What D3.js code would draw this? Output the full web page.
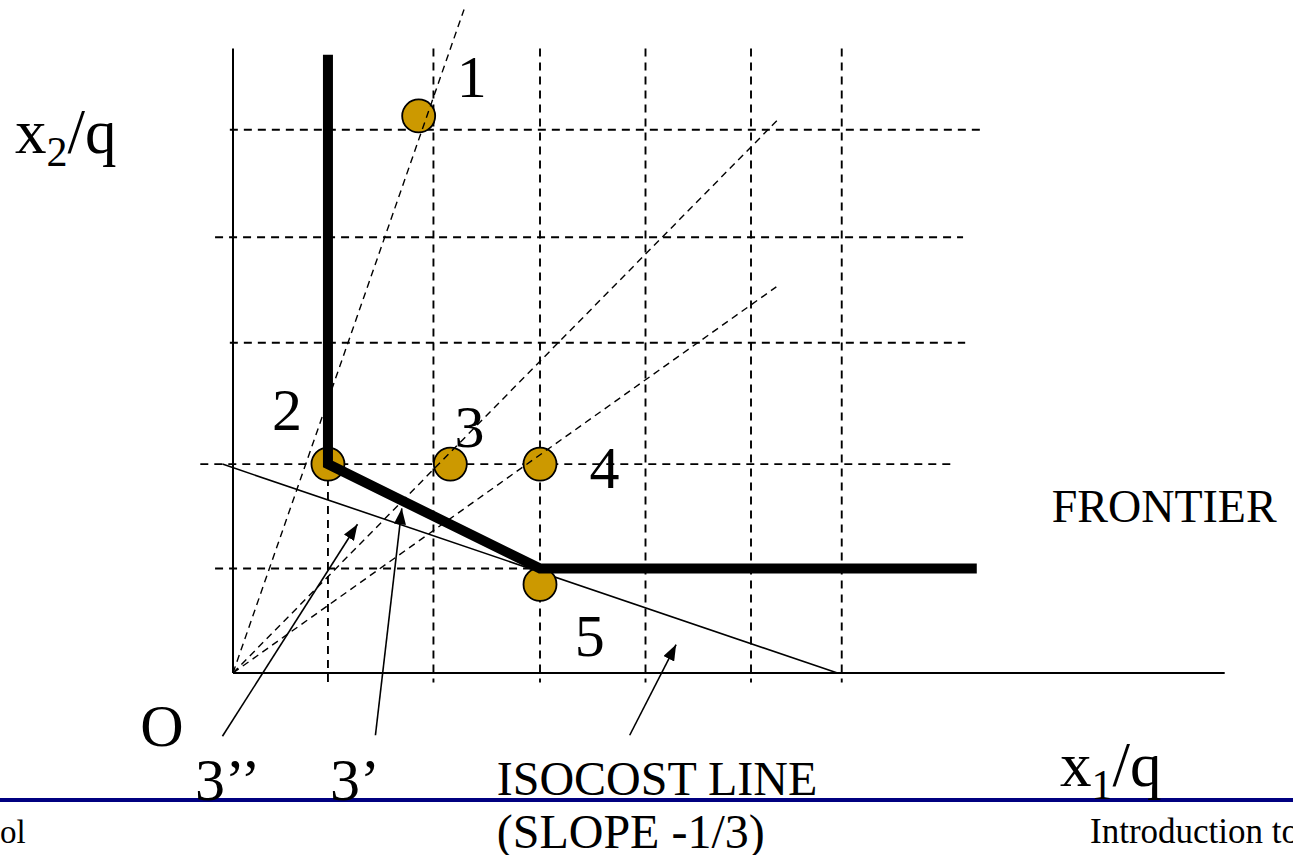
<!DOCTYPE html>
<html>
<head>
<meta charset="utf-8">
<script src="https://cdn.jsdelivr.net/npm/d3@7/dist/d3.min.js"></script>
<style>
  html, body { margin: 0; padding: 0; background: #ffffff; }
  svg { display: block; }
  text { font-family: "Liberation Serif", "Times New Roman", serif; fill: #000; }
</style>
</head>
<body>
<svg id="chart" width="1293" height="855"></svg>
<script>
// ---------- data (in x1/q , x2/q units) ----------
const gridXValues = [0.90, 1.90, 2.91, 3.91, 4.91, 5.77];
const gridXTops   = [1.98, 5.92, 5.92, 5.92, 5.92, 5.92];
const gridYValues = [0.99, 1.98, 3.13, 4.13, 5.15];
const gridYStarts = [-0.17, -0.31, -0.03, -0.17, -0.03];
const gridYEnds   = [7.03, 6.80, 6.94, 6.92, 7.08];

const pointNames = ["1", "2", "3", "4", "5"];
const pointX     = [1.76, 0.90, 2.06, 2.91, 2.91];
const pointY     = [5.28, 1.98, 1.98, 1.98, 0.84];
const pointLabelX = [2.12, 0.37, 2.10, 3.38, 3.24];
const pointLabelY = [5.46, 2.30, 2.14, 1.75, 0.16];

const frontierX = [0.90, 0.90, 2.91, 7.05];
const frontierY = [5.86, 1.98, 0.99, 0.99];

const rayEndX = [2.19, 5.17, 5.15];
const rayEndY = [6.29, 5.25, 3.66];

const isocostX = [-0.10, 5.73];
const isocostY = [1.98, 0.00];

const axisXEnd = 9.40;
const axisYEnd = 5.92;

const arrowNames = ["3’’", "3’", "ISOCOST"];
const arrowTailX = [-0.10, 1.35, 3.76];
const arrowTailY = [-0.60, -0.59, -0.59];
const arrowTipX  = [1.18, 1.60, 4.20];
const arrowTipY  = [1.41, 1.56, 0.27];

const labelTexts = ["O", "3’’", "3’", "FRONTIER", "ISOCOST LINE", "(SLOPE -1/3)"];
const labelX     = [-0.88, -0.36, 0.92, 7.76, 2.50, 2.50];
const labelY     = [-0.69, -1.20, -1.20, 1.43, -1.16, -1.66];
const labelSize  = [60, 60, 60, 46, 48, 48];

const footerTexts = ["ol", "Introduction to"];

// ---------- scales ----------
const unit = 105.5;
const x = d3.scaleLinear().domain([0, 1]).range([233, 233 + unit]);
const y = d3.scaleLinear().domain([0, 1]).range([673, 673 - unit]);

const svg = d3.select("#chart");

// arrow marker
svg.append("defs").append("marker")
  .attr("id", "ah")
  .attr("markerUnits", "userSpaceOnUse")
  .attr("viewBox", "0 0 16 12")
  .attr("refX", 16).attr("refY", 6)
  .attr("markerWidth", 16).attr("markerHeight", 12)
  .attr("orient", "auto")
  .append("path").attr("d", "M0,0 L16,6 L0,12 Z").attr("fill", "#000");

// footer rule
svg.append("line")
  .attr("x1", 0).attr("x2", 1293).attr("y1", 800).attr("y2", 800)
  .attr("stroke", "#000080").attr("stroke-width", 4);

// grid
const g = svg.append("g");
g.selectAll("line.gx").data(gridXValues).join("line")
  .attr("class", "gx")
  .attr("x1", d => x(d)).attr("x2", d => x(d))
  .attr("y1", (d, i) => y(gridXTops[i])).attr("y2", y(-0.09))
  .attr("stroke", "#000").attr("stroke-width", 1.9).attr("stroke-dasharray", "8,6");
g.selectAll("line.gy").data(gridYValues).join("line")
  .attr("class", "gy")
  .attr("y1", d => y(d)).attr("y2", d => y(d))
  .attr("x1", (d, i) => x(gridYStarts[i])).attr("x2", (d, i) => x(gridYEnds[i]))
  .attr("stroke", "#000").attr("stroke-width", 1.9).attr("stroke-dasharray", "8,6");

// axes
g.append("line").attr("x1", x(0)).attr("x2", x(0)).attr("y1", y(0)).attr("y2", y(axisYEnd))
  .attr("stroke", "#000").attr("stroke-width", 2);
g.append("line").attr("x1", x(0)).attr("x2", x(axisXEnd)).attr("y1", y(0)).attr("y2", y(0))
  .attr("stroke", "#000").attr("stroke-width", 2);

// isocost line
g.append("line")
  .attr("x1", x(isocostX[0])).attr("y1", y(isocostY[0]))
  .attr("x2", x(isocostX[1])).attr("y2", y(isocostY[1]))
  .attr("stroke", "#000").attr("stroke-width", 1.6);

// points
g.selectAll("circle.pt").data(pointNames).join("circle")
  .attr("class", "pt")
  .attr("cx", (d, i) => x(pointX[i])).attr("cy", (d, i) => y(pointY[i]))
  .attr("r", 16.5)
  .attr("fill", "#CC9900").attr("stroke", "#000").attr("stroke-width", 1.8);

// frontier (drawn over the points)
const lineGen = d3.line().x(d => x(d[0])).y(d => y(d[1]));
g.append("path")
  .datum(frontierX.map((v, i) => [v, frontierY[i]]))
  .attr("d", lineGen)
  .attr("fill", "none").attr("stroke", "#000").attr("stroke-width", 10)
  .attr("stroke-linejoin", "miter");

// rays from origin (dashed, visible through circles)
g.selectAll("line.ray").data(rayEndX).join("line")
  .attr("class", "ray")
  .attr("x1", x(0)).attr("y1", y(0))
  .attr("x2", d => x(d)).attr("y2", (d, i) => y(rayEndY[i]))
  .attr("stroke", "#000").attr("stroke-width", 1.4).attr("stroke-dasharray", "7,5");

// arrows
g.selectAll("line.arr").data(arrowNames).join("line")
  .attr("class", "arr")
  .attr("x1", (d, i) => x(arrowTailX[i])).attr("y1", (d, i) => y(arrowTailY[i]))
  .attr("x2", (d, i) => x(arrowTipX[i])).attr("y2", (d, i) => y(arrowTipY[i]))
  .attr("stroke", "#000").attr("stroke-width", 1.6)
  .attr("marker-end", "url(#ah)");

// point labels
g.selectAll("text.pl").data(pointNames).join("text")
  .attr("class", "pl")
  .attr("x", (d, i) => x(pointLabelX[i])).attr("y", (d, i) => y(pointLabelY[i]))
  .attr("font-size", 60)
  .text(d => d);

// other labels
g.selectAll("text.lb").data(labelTexts).join("text")
  .attr("class", "lb")
  .attr("x", (d, i) => x(labelX[i])).attr("y", (d, i) => y(labelY[i]))
  .attr("font-size", (d, i) => labelSize[i])
  .text(d => d);

// axis titles
const yt = svg.append("text").attr("x", 15).attr("y", 153).attr("font-size", 63);
yt.append("tspan").text("x");
yt.append("tspan").attr("font-size", 42).attr("dy", 13).text("2");
yt.append("tspan").attr("dy", -13).text("/q");

const xt = svg.append("text").attr("x", 1060).attr("y", 786).attr("font-size", 63);
xt.append("tspan").text("x");
xt.append("tspan").attr("font-size", 42).attr("dy", 13).text("1");
xt.append("tspan").attr("dy", -13).text("/q");

// footer texts
svg.append("text").attr("x", 0).attr("y", 843).attr("font-size", 33).text(footerTexts[0]);
svg.append("text").attr("x", 1090).attr("y", 843).attr("font-size", 35).text(footerTexts[1]);
</script>
</body>
</html>
